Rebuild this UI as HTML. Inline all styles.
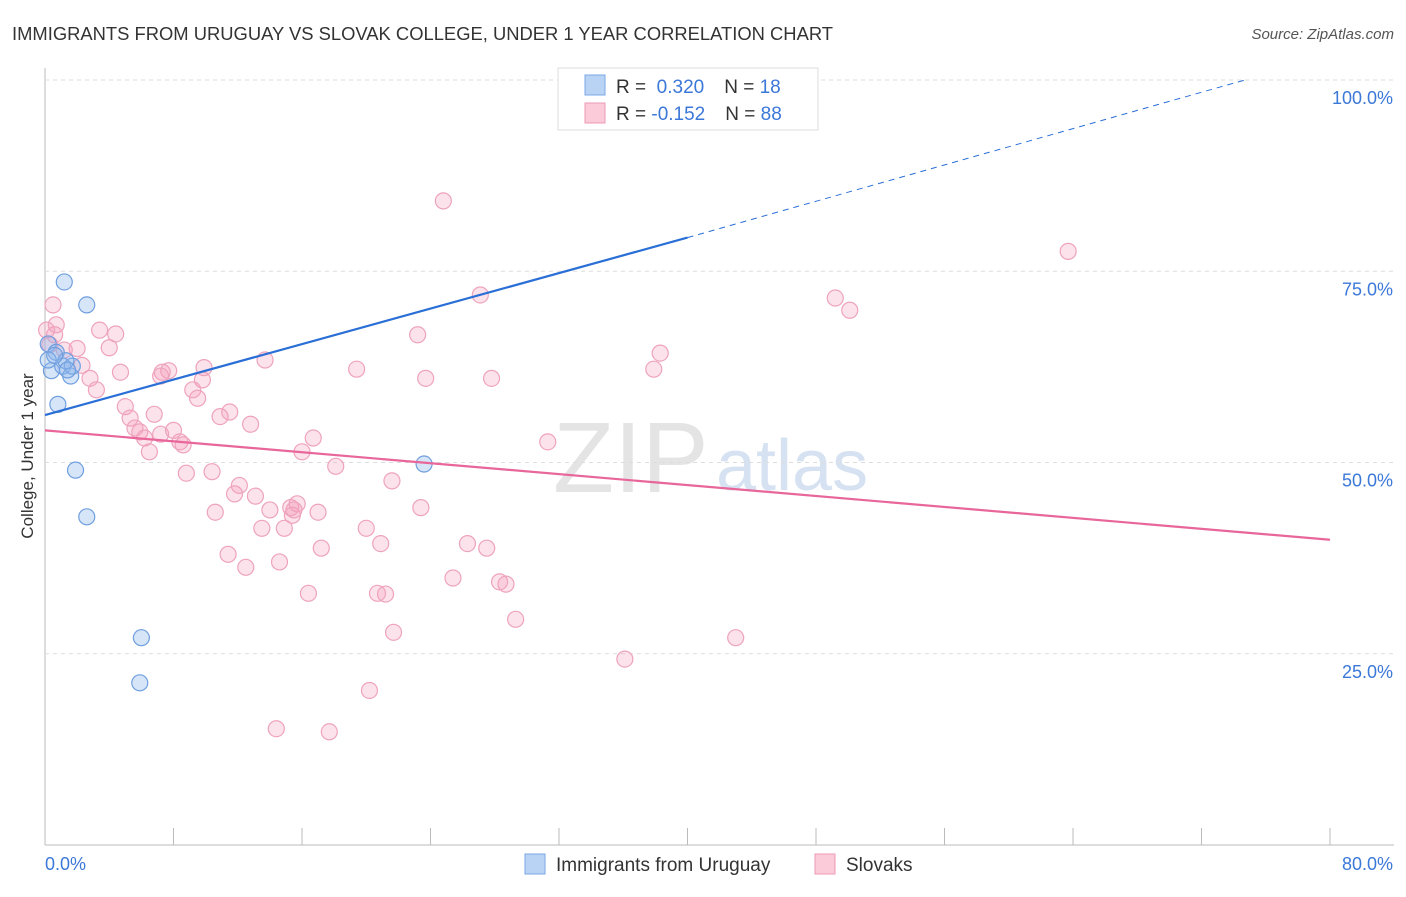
<!DOCTYPE html>
<html><head><meta charset="utf-8"><style>
body{margin:0;background:#fff;font-family:"Liberation Sans",sans-serif;}
svg text{font-family:"Liberation Sans",sans-serif;}
</style></head><body>
<svg id="c" width="1406" height="892">
<text x="12" y="40" font-size="18" fill="#333" textLength="821" lengthAdjust="spacingAndGlyphs">IMMIGRANTS FROM URUGUAY VS SLOVAK COLLEGE, UNDER 1 YEAR CORRELATION CHART</text>
<text x="1394" y="39" font-size="15" fill="#555" text-anchor="end" font-style="italic">Source: ZipAtlas.com</text>
<text x="553" y="492" font-size="100" fill="#e4e4e4" font-family="Liberation Serif">ZIP</text>
<text x="716" y="490" font-size="72" fill="#d6e2f2">atlas</text>
<text transform="translate(33,456) rotate(-90)" font-size="17" fill="#333" text-anchor="middle">College, Under 1 year</text>
<g id="grid"></g><g id="marks"></g>
<g>
<rect x="558" y="68" width="260" height="62" fill="#fff" stroke="#ddd"/>
<rect x="585" y="75" width="20" height="20" fill="#b9d3f5" stroke="#7aa7e6"/>
<rect x="585" y="103" width="20" height="20" fill="#fbcbd9" stroke="#ee9ab4"/>
<text x="616" y="93" font-size="19" fill="#333">R = <tspan fill="#3b78d8">&#160;0.320</tspan><tspan dx="20">N = </tspan><tspan fill="#3b78d8"> 18</tspan></text>
<text x="616" y="120" font-size="19" fill="#333">R = <tspan fill="#3b78d8">-0.152</tspan><tspan dx="20">N = </tspan><tspan fill="#3b78d8"> 88</tspan></text>
</g>
<g>
<rect x="525" y="854" width="20" height="20" fill="#b9d3f5" stroke="#7aa7e6"/>
<text x="556" y="871" font-size="19" fill="#333">Immigrants from Uruguay</text>
<rect x="815" y="854" width="20" height="20" fill="#fbcbd9" stroke="#ee9ab4"/>
<text x="846" y="871" font-size="19" fill="#333">Slovaks</text>
</g>
</svg>
<script>
const yTicks=[25,50,75,100];
const xTickLabels=["0.0%","80.0%"];
const bluePoints=[[0.2,65.5],[0.4,62],[0.7,64.4],[1.2,73.6],[0.8,57.6],[1.1,62.6],[1.6,61.3],[1.9,49],[2.6,42.9],[2.6,70.6],[6.0,27.1],[5.9,21.2],[23.6,49.8],[1.7,62.6],[1.3,63.3],[0.2,63.4],[0.6,64],[1.4,62.1]];
const pinkPoints=[[0.5,70.6],[0.7,68],[0.6,66.7],[0.3,65.4],[1.2,64.7],[2.0,64.9],[2.3,62.7],[2.8,61],[3.2,59.5],[3.4,67.3],[4.0,65],[4.4,66.8],[4.7,61.8],[5.0,57.3],[5.3,55.8],[5.6,54.5],[5.9,54],[6.2,53.2],[6.5,51.4],[6.8,56.3],[7.2,53.7],[7.3,61.8],[7.7,62],[8.0,54.2],[8.4,52.7],[8.6,52.3],[8.8,48.6],[9.2,59.5],[9.5,58.4],[9.8,60.8],[9.9,62.4],[10.4,48.8],[10.6,43.5],[10.9,56],[11.4,38],[11.5,56.6],[11.8,45.9],[12.1,47],[12.5,36.3],[12.8,55],[13.1,45.6],[13.5,41.4],[13.7,63.4],[14.0,43.8],[14.6,37],[14.9,41.4],[15.3,44.1],[15.4,43.1],[15.7,44.6],[16.0,51.4],[16.4,32.9],[16.7,53.2],[17.0,43.5],[17.2,38.8],[18.1,49.5],[19.4,62.2],[20.0,41.4],[20.2,20.2],[20.7,32.9],[20.9,39.4],[21.2,32.8],[21.7,27.8],[21.6,47.6],[23.2,66.7],[23.4,44.1],[23.7,61],[24.8,84.2],[25.4,34.9],[26.3,39.4],[27.1,71.9],[27.5,38.8],[27.8,61],[28.3,34.4],[28.7,34.1],[29.3,29.5],[31.3,52.7],[36.1,24.3],[37.9,62.2],[38.3,64.3],[43.0,27.1],[49.2,71.5],[50.1,69.9],[63.7,77.6],[14.4,15.2],[17.7,14.8],[15.5,43.8],[0.1,67.3],[7.2,61.3]];
const blueFit=[[0,56.2],[40,79.4],[74.7,100]];
const pinkFit=[[0,54.2],[80,39.9]];
const X0=45,X1=1330,Y0=845;
const xs=v=>X0+v/80*(X1-X0);
const ys=v=>Y0-v/100*765;
const NS="http://www.w3.org/2000/svg";
function mk(tag,attrs,parent){const e=document.createElementNS(NS,tag);for(const k in attrs)e.setAttribute(k,attrs[k]);parent.appendChild(e);return e;}
const grid=document.getElementById('grid'),marks=document.getElementById('marks');
let ax=mk('line',{x1:X0,y1:68,x2:X0,y2:Y0,stroke:'#bbb'},grid);


let bx=mk('line',{x1:X0,y1:Y0,x2:1394,y2:Y0,stroke:'#bbb'},grid);


yTicks.forEach(t=>{
 let g=mk('line',{x1:X0,y1:ys(t),x2:1394,y2:ys(t),stroke:'#ddd','stroke-dasharray':'4 4'},grid);
 
 
 let l=mk('text',{x:1393,y:ys(t)+24,'font-size':18,fill:'#3b78d8','text-anchor':'end'},grid);
 l.textContent=t.toFixed(1)+'%';
 
 
});
for(let i=0;i<=10;i++){
 let t=mk('line',{x1:xs(i*8),y1:828,x2:xs(i*8),y2:Y0,stroke:'#bbb'},grid);
 
 
}
let xl0=mk('text',{x:45,y:870,'font-size':18,fill:'#3b78d8'},grid);xl0.textContent=xTickLabels[0];


let xl1=mk('text',{x:1393,y:870,'font-size':18,fill:'#3b78d8','text-anchor':'end'},grid);xl1.textContent=xTickLabels[1];


pinkPoints.forEach(p=>{
 let c=mk('circle',{cx:xs(p[0]),cy:ys(p[1]),r:8,fill:'rgba(244,160,190,0.3)',stroke:'#eea3bd','stroke-width':1.2},marks);
 
 
});
bluePoints.forEach(p=>{
 let c=mk('circle',{cx:xs(p[0]),cy:ys(p[1]),r:8,fill:'rgba(140,180,235,0.35)',stroke:'#6f9fdf','stroke-width':1.2},marks);
 
 
});
let bl=mk('line',{x1:xs(blueFit[0][0]),y1:ys(blueFit[0][1]),x2:xs(blueFit[1][0]),y2:ys(blueFit[1][1]),stroke:'#2a6fd6','stroke-width':2.2},marks);


let bd=mk('line',{x1:xs(blueFit[1][0]),y1:ys(blueFit[1][1]),x2:xs(blueFit[2][0]),y2:ys(blueFit[2][1]),stroke:'#2a6fd6','stroke-width':1,'stroke-dasharray':'6 5'},marks);


let pl=mk('line',{x1:xs(pinkFit[0][0]),y1:ys(pinkFit[0][1]),x2:xs(pinkFit[1][0]),y2:ys(pinkFit[1][1]),stroke:'#e8669a','stroke-width':2.2},marks);


</script>
</body></html>
